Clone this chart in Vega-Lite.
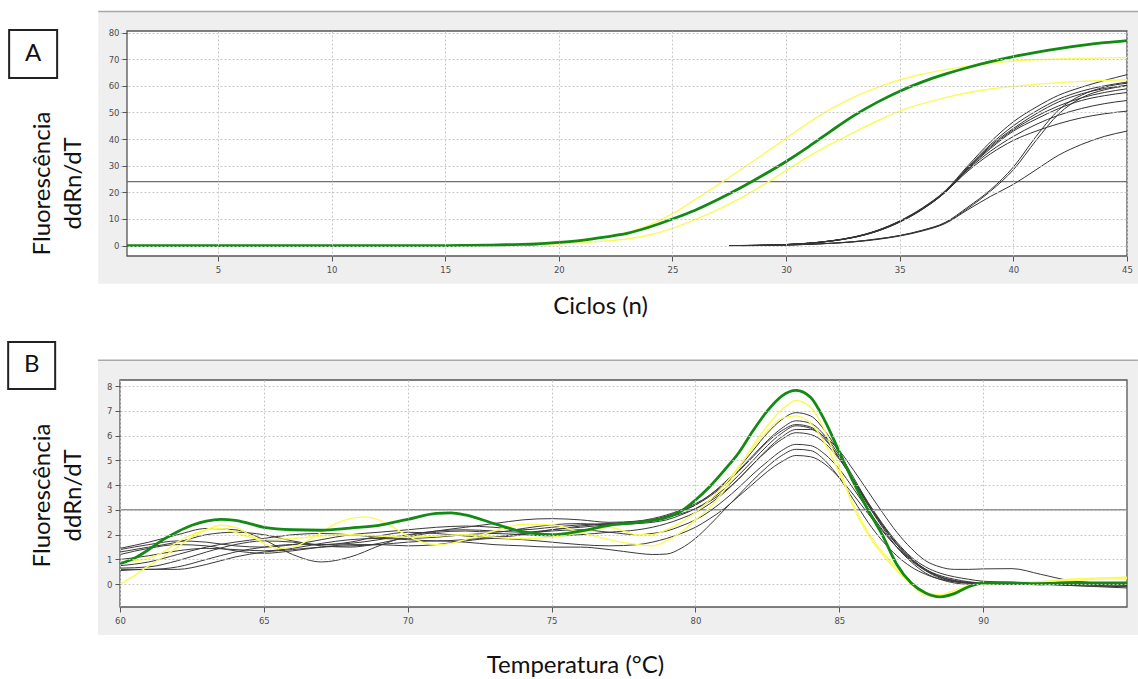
{
"$schema": "https://vega.github.io/schema/vega-lite/v6.json",
"background": "white",
"padding": {"left": 4, "top": 10, "right": 0, "bottom": 0},
"config": {
 "view": {"stroke": null},
 "axis": {"domain": false, "grid": true, "gridColor": "#c8c8c8", "gridDash": [2, 2], "gridWidth": 1, "tickColor": "#555555", "tickSize": 5, "labelColor": "#4d4d4d", "labelFont": "DejaVu Sans", "labelFontSize": 8.5, "labelPadding": 3, "labelFlush": false, "labelOverlap": false, "titleFont": "Lato", "titleFontSize": 24, "titleFontWeight": "normal", "titleColor": "#111111"}
},
"datasets": {
 "AG": [{"x":1,"y":0},{"x":5,"y":0},{"x":10,"y":0},{"x":15,"y":0},{"x":16,"y":0.1},{"x":17,"y":0.2},{"x":18,"y":0.4},{"x":19,"y":0.6},{"x":20,"y":1.2},{"x":21,"y":2},{"x":22,"y":3.2},{"x":23,"y":4.6},{"x":24,"y":7},{"x":25,"y":10},{"x":26,"y":13.3},{"x":27,"y":17.3},{"x":28,"y":21.7},{"x":29,"y":26.5},{"x":30,"y":31.6},{"x":31,"y":37.2},{"x":32,"y":43.2},{"x":33,"y":48.9},{"x":34,"y":53.8},{"x":35,"y":58},{"x":36,"y":61.5},{"x":37,"y":64.4},{"x":38,"y":66.9},{"x":39,"y":69.1},{"x":40,"y":71},{"x":41,"y":72.6},{"x":42,"y":74},{"x":43,"y":75.2},{"x":44,"y":76.2},{"x":45,"y":77}],
 "AY": [
  {"s":"Y1","x":16,"y":0},{"s":"Y1","x":17,"y":0.1},{"s":"Y1","x":18,"y":0.3},{"s":"Y1","x":19,"y":0.6},{"s":"Y1","x":20,"y":1.2},{"s":"Y1","x":21,"y":2},{"s":"Y1","x":22,"y":3.3},{"s":"Y1","x":23,"y":5},{"s":"Y1","x":24,"y":7.8},{"s":"Y1","x":25,"y":12},{"s":"Y1","x":26,"y":17.3},{"s":"Y1","x":27,"y":22.8},{"s":"Y1","x":28,"y":28.5},{"s":"Y1","x":29,"y":34.3},{"s":"Y1","x":30,"y":40.3},{"s":"Y1","x":31,"y":46.2},{"s":"Y1","x":32,"y":51.5},{"s":"Y1","x":33,"y":55.8},{"s":"Y1","x":34,"y":59.3},{"s":"Y1","x":35,"y":62.3},{"s":"Y1","x":36,"y":64.4},{"s":"Y1","x":37,"y":66.1},{"s":"Y1","x":38,"y":67.4},{"s":"Y1","x":39,"y":68.5},{"s":"Y1","x":40,"y":69.3},{"s":"Y1","x":41,"y":69.8},{"s":"Y1","x":42,"y":70.1},{"s":"Y1","x":43,"y":70.3},{"s":"Y1","x":44,"y":70.5},{"s":"Y1","x":45,"y":70.6},
  {"s":"Y2","x":16,"y":0},{"s":"Y2","x":17,"y":0.1},{"s":"Y2","x":18,"y":0.2},{"s":"Y2","x":19,"y":0.4},{"s":"Y2","x":20,"y":0.7},{"s":"Y2","x":21,"y":1.1},{"s":"Y2","x":22,"y":1.7},{"s":"Y2","x":23,"y":2.5},{"s":"Y2","x":24,"y":4},{"s":"Y2","x":25,"y":6.5},{"s":"Y2","x":26,"y":9.8},{"s":"Y2","x":27,"y":13.5},{"s":"Y2","x":28,"y":17.8},{"s":"Y2","x":29,"y":22.8},{"s":"Y2","x":30,"y":28.2},{"s":"Y2","x":31,"y":33.5},{"s":"Y2","x":32,"y":38.3},{"s":"Y2","x":33,"y":42.6},{"s":"Y2","x":34,"y":46.8},{"s":"Y2","x":35,"y":50.5},{"s":"Y2","x":36,"y":53.3},{"s":"Y2","x":37,"y":55.6},{"s":"Y2","x":38,"y":57.4},{"s":"Y2","x":39,"y":58.8},{"s":"Y2","x":40,"y":59.8},{"s":"Y2","x":41,"y":60.6},{"s":"Y2","x":42,"y":61.2},{"s":"Y2","x":43,"y":61.7},{"s":"Y2","x":44,"y":62},{"s":"Y2","x":45,"y":62.3}
 ],
 "AK": [
  {"s":"K1","x":27.5,"y":0},{"s":"K1","x":28,"y":0.05},{"s":"K1","x":29,"y":0.15},{"s":"K1","x":30,"y":0.4},{"s":"K1","x":31,"y":0.9},{"s":"K1","x":32,"y":1.8},{"s":"K1","x":33,"y":3.3},{"s":"K1","x":34,"y":5.7},{"s":"K1","x":35,"y":9.3},{"s":"K1","x":36,"y":14.2},{"s":"K1","x":37,"y":20.6},{"s":"K1","x":38,"y":30},{"s":"K1","x":39,"y":39},{"s":"K1","x":40,"y":46.5},{"s":"K1","x":41,"y":52},{"s":"K1","x":42,"y":56.5},{"s":"K1","x":43,"y":59.5},{"s":"K1","x":44,"y":62},{"s":"K1","x":45,"y":64.2},
  {"s":"K2","x":27.8,"y":0},{"s":"K2","x":29,"y":0.15},{"s":"K2","x":30,"y":0.4},{"s":"K2","x":31,"y":0.9},{"s":"K2","x":32,"y":1.8},{"s":"K2","x":33,"y":3.2},{"s":"K2","x":34,"y":5.6},{"s":"K2","x":35,"y":9.1},{"s":"K2","x":36,"y":14},{"s":"K2","x":37,"y":20.4},{"s":"K2","x":38,"y":29.5},{"s":"K2","x":39,"y":38},{"s":"K2","x":40,"y":45},{"s":"K2","x":41,"y":50.5},{"s":"K2","x":42,"y":55},{"s":"K2","x":43,"y":58},{"s":"K2","x":44,"y":60},{"s":"K2","x":45,"y":61.4},
  {"s":"K3","x":28,"y":0},{"s":"K3","x":29,"y":0.12},{"s":"K3","x":30,"y":0.38},{"s":"K3","x":31,"y":0.85},{"s":"K3","x":32,"y":1.75},{"s":"K3","x":33,"y":3.15},{"s":"K3","x":34,"y":5.5},{"s":"K3","x":35,"y":9},{"s":"K3","x":36,"y":13.8},{"s":"K3","x":37,"y":20.2},{"s":"K3","x":38,"y":29.2},{"s":"K3","x":39,"y":37.5},{"s":"K3","x":40,"y":44},{"s":"K3","x":41,"y":49.5},{"s":"K3","x":42,"y":54},{"s":"K3","x":43,"y":57},{"s":"K3","x":44,"y":59},{"s":"K3","x":45,"y":60.2},
  {"s":"K4","x":28.5,"y":0},{"s":"K4","x":29,"y":0.1},{"s":"K4","x":30,"y":0.35},{"s":"K4","x":31,"y":0.85},{"s":"K4","x":32,"y":1.7},{"s":"K4","x":33,"y":3.1},{"s":"K4","x":34,"y":5.4},{"s":"K4","x":35,"y":8.9},{"s":"K4","x":36,"y":13.7},{"s":"K4","x":37,"y":20},{"s":"K4","x":38,"y":29},{"s":"K4","x":39,"y":37},{"s":"K4","x":40,"y":43.5},{"s":"K4","x":41,"y":48.5},{"s":"K4","x":42,"y":52.5},{"s":"K4","x":43,"y":55.5},{"s":"K4","x":44,"y":57.5},{"s":"K4","x":45,"y":58.9},
  {"s":"K5","x":27.5,"y":0},{"s":"K5","x":29,"y":0.15},{"s":"K5","x":30,"y":0.42},{"s":"K5","x":31,"y":0.95},{"s":"K5","x":32,"y":1.85},{"s":"K5","x":33,"y":3.25},{"s":"K5","x":34,"y":5.6},{"s":"K5","x":35,"y":9.2},{"s":"K5","x":36,"y":13.9},{"s":"K5","x":37,"y":20.1},{"s":"K5","x":38,"y":28.8},{"s":"K5","x":39,"y":36.5},{"s":"K5","x":40,"y":43},{"s":"K5","x":41,"y":47.5},{"s":"K5","x":42,"y":51.5},{"s":"K5","x":43,"y":54.5},{"s":"K5","x":44,"y":56.3},{"s":"K5","x":45,"y":57.5},
  {"s":"K6","x":28,"y":0},{"s":"K6","x":29,"y":0.12},{"s":"K6","x":30,"y":0.4},{"s":"K6","x":31,"y":0.9},{"s":"K6","x":32,"y":1.75},{"s":"K6","x":33,"y":3.1},{"s":"K6","x":34,"y":5.35},{"s":"K6","x":35,"y":8.8},{"s":"K6","x":36,"y":13.6},{"s":"K6","x":37,"y":20},{"s":"K6","x":38,"y":28.5},{"s":"K6","x":39,"y":35.5},{"s":"K6","x":40,"y":41},{"s":"K6","x":41,"y":45.5},{"s":"K6","x":42,"y":49},{"s":"K6","x":43,"y":51.5},{"s":"K6","x":44,"y":53.3},{"s":"K6","x":45,"y":54.5},
  {"s":"K7","x":28.5,"y":0},{"s":"K7","x":29,"y":0.12},{"s":"K7","x":30,"y":0.38},{"s":"K7","x":31,"y":0.88},{"s":"K7","x":32,"y":1.78},{"s":"K7","x":33,"y":3.2},{"s":"K7","x":34,"y":5.5},{"s":"K7","x":35,"y":9},{"s":"K7","x":36,"y":13.8},{"s":"K7","x":37,"y":20.1},{"s":"K7","x":38,"y":28},{"s":"K7","x":39,"y":34.5},{"s":"K7","x":40,"y":39.5},{"s":"K7","x":41,"y":43},{"s":"K7","x":42,"y":45.8},{"s":"K7","x":43,"y":48},{"s":"K7","x":44,"y":49.5},{"s":"K7","x":45,"y":50.5},
  {"s":"K8","x":27.5,"y":0},{"s":"K8","x":29,"y":0.05},{"s":"K8","x":30,"y":0.2},{"s":"K8","x":31,"y":0.5},{"s":"K8","x":32,"y":0.9},{"s":"K8","x":33,"y":1.5},{"s":"K8","x":34,"y":2.5},{"s":"K8","x":35,"y":3.8},{"s":"K8","x":36,"y":5.8},{"s":"K8","x":37,"y":8.7},{"s":"K8","x":38,"y":14.5},{"s":"K8","x":39,"y":21},{"s":"K8","x":40,"y":29.5},{"s":"K8","x":41,"y":41},{"s":"K8","x":42,"y":51},{"s":"K8","x":43,"y":56.5},{"s":"K8","x":44,"y":59.5},{"s":"K8","x":45,"y":61},
  {"s":"K9","x":28,"y":0},{"s":"K9","x":29,"y":0.05},{"s":"K9","x":30,"y":0.2},{"s":"K9","x":31,"y":0.5},{"s":"K9","x":32,"y":0.9},{"s":"K9","x":33,"y":1.5},{"s":"K9","x":34,"y":2.45},{"s":"K9","x":35,"y":3.75},{"s":"K9","x":36,"y":5.7},{"s":"K9","x":37,"y":8.5},{"s":"K9","x":38,"y":14},{"s":"K9","x":39,"y":20.5},{"s":"K9","x":40,"y":28.5},{"s":"K9","x":41,"y":39.5},{"s":"K9","x":42,"y":49.5},{"s":"K9","x":43,"y":55.5},{"s":"K9","x":44,"y":58.5},{"s":"K9","x":45,"y":60},
  {"s":"K10","x":28,"y":0},{"s":"K10","x":29,"y":0.05},{"s":"K10","x":30,"y":0.2},{"s":"K10","x":31,"y":0.45},{"s":"K10","x":32,"y":0.85},{"s":"K10","x":33,"y":1.4},{"s":"K10","x":34,"y":2.3},{"s":"K10","x":35,"y":3.6},{"s":"K10","x":36,"y":5.5},{"s":"K10","x":37,"y":8.3},{"s":"K10","x":38,"y":13.5},{"s":"K10","x":39,"y":18.5},{"s":"K10","x":40,"y":23},{"s":"K10","x":41,"y":28.5},{"s":"K10","x":42,"y":34},{"s":"K10","x":43,"y":38},{"s":"K10","x":44,"y":41},{"s":"K10","x":45,"y":43}
 ],
 "BG": [{"x":60,"y":0.83},{"x":60.5,"y":1.05},{"x":61,"y":1.4},{"x":61.5,"y":1.8},{"x":62,"y":2.12},{"x":62.5,"y":2.38},{"x":63,"y":2.55},{"x":63.5,"y":2.62},{"x":64,"y":2.58},{"x":64.5,"y":2.45},{"x":65,"y":2.3},{"x":66,"y":2.2},{"x":67,"y":2.18},{"x":68,"y":2.27},{"x":69,"y":2.38},{"x":70,"y":2.62},{"x":71,"y":2.86},{"x":71.5,"y":2.88},{"x":72,"y":2.8},{"x":73,"y":2.45},{"x":74,"y":2.12},{"x":75,"y":2},{"x":76,"y":2.15},{"x":77,"y":2.38},{"x":78,"y":2.5},{"x":79,"y":2.7},{"x":79.5,"y":2.95},{"x":80,"y":3.4},{"x":80.5,"y":3.95},{"x":81,"y":4.6},{"x":81.5,"y":5.3},{"x":82,"y":6.2},{"x":82.5,"y":7},{"x":83,"y":7.6},{"x":83.5,"y":7.83},{"x":84,"y":7.55},{"x":84.5,"y":6.6},{"x":85,"y":5.35},{"x":85.5,"y":4.1},{"x":86,"y":3},{"x":86.5,"y":1.98},{"x":87,"y":0.8},{"x":87.5,"y":0.05},{"x":88,"y":-0.35},{"x":88.5,"y":-0.51},{"x":89,"y":-0.38},{"x":89.5,"y":-0.1},{"x":90,"y":0.05},{"x":91,"y":0.05},{"x":92,"y":0.02},{"x":93,"y":0.05},{"x":94,"y":0.05},{"x":95,"y":0.05}],
 "BY": [
  {"s":"Y1","x":60,"y":0},{"s":"Y1","x":60.5,"y":0.35},{"s":"Y1","x":61,"y":0.75},{"s":"Y1","x":61.5,"y":1.1},{"s":"Y1","x":62,"y":1.5},{"s":"Y1","x":62.5,"y":1.9},{"s":"Y1","x":63,"y":2.2},{"s":"Y1","x":63.5,"y":2.38},{"s":"Y1","x":64,"y":2.3},{"s":"Y1","x":64.5,"y":2},{"s":"Y1","x":65,"y":1.65},{"s":"Y1","x":65.5,"y":1.45},{"s":"Y1","x":66,"y":1.5},{"s":"Y1","x":66.5,"y":1.75},{"s":"Y1","x":67,"y":2.1},{"s":"Y1","x":67.5,"y":2.45},{"s":"Y1","x":68,"y":2.65},{"s":"Y1","x":68.5,"y":2.72},{"s":"Y1","x":69,"y":2.6},{"s":"Y1","x":69.5,"y":2.3},{"s":"Y1","x":70,"y":1.95},{"s":"Y1","x":70.5,"y":1.7},{"s":"Y1","x":71,"y":1.6},{"s":"Y1","x":71.5,"y":1.65},{"s":"Y1","x":72,"y":1.8},{"s":"Y1","x":73,"y":2.15},{"s":"Y1","x":74,"y":2.42},{"s":"Y1","x":75,"y":2.4},{"s":"Y1","x":76,"y":2.1},{"s":"Y1","x":77,"y":1.8},{"s":"Y1","x":78,"y":1.6},{"s":"Y1","x":78.5,"y":1.55},{"s":"Y1","x":79,"y":1.75},{"s":"Y1","x":79.5,"y":2.1},{"s":"Y1","x":80,"y":2.6},{"s":"Y1","x":80.5,"y":3.1},{"s":"Y1","x":81,"y":3.8},{"s":"Y1","x":81.5,"y":4.7},{"s":"Y1","x":82,"y":5.6},{"s":"Y1","x":82.5,"y":6.4},{"s":"Y1","x":83,"y":7.05},{"s":"Y1","x":83.5,"y":7.42},{"s":"Y1","x":84,"y":7.15},{"s":"Y1","x":84.5,"y":6.2},{"s":"Y1","x":85,"y":4.7},{"s":"Y1","x":85.5,"y":3.1},{"s":"Y1","x":86,"y":2},{"s":"Y1","x":86.5,"y":1.2},{"s":"Y1","x":87,"y":0.55},{"s":"Y1","x":87.5,"y":0},{"s":"Y1","x":88,"y":-0.45},{"s":"Y1","x":88.5,"y":-0.5},{"s":"Y1","x":89,"y":-0.32},{"s":"Y1","x":89.5,"y":-0.1},{"s":"Y1","x":90,"y":0},{"s":"Y1","x":91,"y":0.05},{"s":"Y1","x":92,"y":0.1},{"s":"Y1","x":93,"y":0.2},{"s":"Y1","x":94,"y":0.25},{"s":"Y1","x":95,"y":0.28},
  {"s":"Y2","x":60,"y":0.9},{"s":"Y2","x":60.5,"y":0.95},{"s":"Y2","x":61,"y":1.05},{"s":"Y2","x":61.5,"y":1.3},{"s":"Y2","x":62,"y":1.7},{"s":"Y2","x":62.5,"y":2},{"s":"Y2","x":63,"y":2.2},{"s":"Y2","x":63.5,"y":2.25},{"s":"Y2","x":64,"y":2.1},{"s":"Y2","x":64.5,"y":1.9},{"s":"Y2","x":65,"y":1.8},{"s":"Y2","x":66,"y":1.85},{"s":"Y2","x":67,"y":1.95},{"s":"Y2","x":68,"y":2},{"s":"Y2","x":69,"y":1.95},{"s":"Y2","x":70,"y":1.9},{"s":"Y2","x":71,"y":1.95},{"s":"Y2","x":72,"y":2},{"s":"Y2","x":73,"y":1.9},{"s":"Y2","x":74,"y":1.84},{"s":"Y2","x":75,"y":1.9},{"s":"Y2","x":76,"y":2.1},{"s":"Y2","x":77,"y":2.3},{"s":"Y2","x":78,"y":2},{"s":"Y2","x":78.5,"y":2},{"s":"Y2","x":79,"y":2.2},{"s":"Y2","x":79.5,"y":2.5},{"s":"Y2","x":80,"y":2.9},{"s":"Y2","x":80.5,"y":3.4},{"s":"Y2","x":81,"y":4},{"s":"Y2","x":81.5,"y":4.75},{"s":"Y2","x":82,"y":5.5},{"s":"Y2","x":82.5,"y":6.2},{"s":"Y2","x":83,"y":6.7},{"s":"Y2","x":83.5,"y":6.8},{"s":"Y2","x":84,"y":6.5},{"s":"Y2","x":84.5,"y":5.7},{"s":"Y2","x":85,"y":4.5},{"s":"Y2","x":85.5,"y":3.2},{"s":"Y2","x":86,"y":2.1},{"s":"Y2","x":86.5,"y":1.3},{"s":"Y2","x":87,"y":0.65},{"s":"Y2","x":87.5,"y":0.1},{"s":"Y2","x":88,"y":-0.35},{"s":"Y2","x":88.5,"y":-0.42},{"s":"Y2","x":89,"y":-0.25},{"s":"Y2","x":89.5,"y":-0.05},{"s":"Y2","x":90,"y":0.02},{"s":"Y2","x":91,"y":0.05},{"s":"Y2","x":92,"y":0.1},{"s":"Y2","x":93,"y":0.15},{"s":"Y2","x":94,"y":0.2},{"s":"Y2","x":95,"y":0.22}
 ],
 "BK": [
  {"s":"B1","x":60,"y":1.4},{"s":"B1","x":61,"y":1.6},{"s":"B1","x":62,"y":1.75},{"s":"B1","x":63,"y":1.7},{"s":"B1","x":64,"y":1.55},{"s":"B1","x":65,"y":1.5},{"s":"B1","x":66,"y":1.6},{"s":"B1","x":67,"y":1.8},{"s":"B1","x":68,"y":2},{"s":"B1","x":69,"y":2.1},{"s":"B1","x":70,"y":2.2},{"s":"B1","x":71,"y":2.3},{"s":"B1","x":72,"y":2.35},{"s":"B1","x":73,"y":2.3},{"s":"B1","x":74,"y":2.2},{"s":"B1","x":75,"y":2.3},{"s":"B1","x":76,"y":2.4},{"s":"B1","x":77,"y":2.45},{"s":"B1","x":78,"y":2.5},{"s":"B1","x":78.5,"y":2.6},{"s":"B1","x":79,"y":2.75},{"s":"B1","x":79.5,"y":2.95},{"s":"B1","x":80,"y":3.2},{"s":"B1","x":80.5,"y":3.6},{"s":"B1","x":81,"y":4.1},{"s":"B1","x":81.5,"y":4.7},{"s":"B1","x":82,"y":5.4},{"s":"B1","x":82.5,"y":6.1},{"s":"B1","x":83,"y":6.65},{"s":"B1","x":83.5,"y":6.93},{"s":"B1","x":84,"y":6.8},{"s":"B1","x":84.5,"y":6.2},{"s":"B1","x":85,"y":5.3},{"s":"B1","x":85.5,"y":4.3},{"s":"B1","x":86,"y":3.3},{"s":"B1","x":86.5,"y":2.4},{"s":"B1","x":87,"y":1.6},{"s":"B1","x":87.5,"y":1},{"s":"B1","x":88,"y":0.6},{"s":"B1","x":88.5,"y":0.35},{"s":"B1","x":89,"y":0.2},{"s":"B1","x":89.5,"y":0.1},{"s":"B1","x":90,"y":0.05},{"s":"B1","x":91,"y":0.05},{"s":"B1","x":92,"y":0},{"s":"B1","x":93,"y":-0.05},{"s":"B1","x":94,"y":-0.08},{"s":"B1","x":95,"y":-0.1},
  {"s":"B2","x":60,"y":0.6},{"s":"B2","x":61,"y":0.6},{"s":"B2","x":62,"y":0.7},{"s":"B2","x":63,"y":1},{"s":"B2","x":64,"y":1.3},{"s":"B2","x":65,"y":1.5},{"s":"B2","x":66,"y":1.6},{"s":"B2","x":67,"y":1.6},{"s":"B2","x":68,"y":1.65},{"s":"B2","x":69,"y":1.8},{"s":"B2","x":70,"y":2},{"s":"B2","x":71,"y":2.15},{"s":"B2","x":72,"y":2.2},{"s":"B2","x":73,"y":2.15},{"s":"B2","x":74,"y":2.1},{"s":"B2","x":75,"y":2.2},{"s":"B2","x":76,"y":2.35},{"s":"B2","x":77,"y":2.45},{"s":"B2","x":78,"y":2.55},{"s":"B2","x":78.5,"y":2.65},{"s":"B2","x":79,"y":2.8},{"s":"B2","x":79.5,"y":3},{"s":"B2","x":80,"y":3.25},{"s":"B2","x":80.5,"y":3.6},{"s":"B2","x":81,"y":4.05},{"s":"B2","x":81.5,"y":4.6},{"s":"B2","x":82,"y":5.2},{"s":"B2","x":82.5,"y":5.8},{"s":"B2","x":83,"y":6.3},{"s":"B2","x":83.5,"y":6.6},{"s":"B2","x":84,"y":6.5},{"s":"B2","x":84.5,"y":6},{"s":"B2","x":85,"y":5.2},{"s":"B2","x":85.5,"y":4.2},{"s":"B2","x":86,"y":3.2},{"s":"B2","x":86.5,"y":2.3},{"s":"B2","x":87,"y":1.5},{"s":"B2","x":87.5,"y":0.9},{"s":"B2","x":88,"y":0.45},{"s":"B2","x":88.5,"y":0.2},{"s":"B2","x":89,"y":0.05},{"s":"B2","x":89.5,"y":0},{"s":"B2","x":90,"y":0},{"s":"B2","x":91,"y":0},{"s":"B2","x":92,"y":0.05},{"s":"B2","x":93,"y":0.05},{"s":"B2","x":94,"y":0},{"s":"B2","x":95,"y":-0.05},
  {"s":"B3","x":60,"y":1.3},{"s":"B3","x":61,"y":1.5},{"s":"B3","x":62,"y":1.7},{"s":"B3","x":63,"y":2},{"s":"B3","x":64,"y":2.1},{"s":"B3","x":65,"y":2},{"s":"B3","x":66,"y":1.75},{"s":"B3","x":67,"y":1.6},{"s":"B3","x":68,"y":1.7},{"s":"B3","x":69,"y":1.95},{"s":"B3","x":70,"y":2.1},{"s":"B3","x":71,"y":2.05},{"s":"B3","x":72,"y":1.95},{"s":"B3","x":73,"y":1.9},{"s":"B3","x":74,"y":2},{"s":"B3","x":75,"y":2.2},{"s":"B3","x":76,"y":2.3},{"s":"B3","x":77,"y":2.4},{"s":"B3","x":78,"y":2.45},{"s":"B3","x":78.5,"y":2.5},{"s":"B3","x":79,"y":2.6},{"s":"B3","x":79.5,"y":2.8},{"s":"B3","x":80,"y":3.05},{"s":"B3","x":80.5,"y":3.4},{"s":"B3","x":81,"y":3.85},{"s":"B3","x":81.5,"y":4.4},{"s":"B3","x":82,"y":5},{"s":"B3","x":82.5,"y":5.6},{"s":"B3","x":83,"y":6.1},{"s":"B3","x":83.5,"y":6.4},{"s":"B3","x":84,"y":6.3},{"s":"B3","x":84.5,"y":5.85},{"s":"B3","x":85,"y":5.1},{"s":"B3","x":85.5,"y":4.2},{"s":"B3","x":86,"y":3.25},{"s":"B3","x":86.5,"y":2.4},{"s":"B3","x":87,"y":1.65},{"s":"B3","x":87.5,"y":1.05},{"s":"B3","x":88,"y":0.6},{"s":"B3","x":88.5,"y":0.3},{"s":"B3","x":89,"y":0.15},{"s":"B3","x":89.5,"y":0.05},{"s":"B3","x":90,"y":0},{"s":"B3","x":91,"y":0.02},{"s":"B3","x":92,"y":0.05},{"s":"B3","x":93,"y":0.05},{"s":"B3","x":94,"y":0.05},{"s":"B3","x":95,"y":0},
  {"s":"B4","x":60,"y":1.45},{"s":"B4","x":61,"y":1.7},{"s":"B4","x":62,"y":2},{"s":"B4","x":63,"y":2.25},{"s":"B4","x":64,"y":2.2},{"s":"B4","x":65,"y":1.8},{"s":"B4","x":66,"y":1.2},{"s":"B4","x":67,"y":0.9},{"s":"B4","x":68,"y":1.1},{"s":"B4","x":69,"y":1.55},{"s":"B4","x":70,"y":1.95},{"s":"B4","x":71,"y":2.15},{"s":"B4","x":72,"y":2.3},{"s":"B4","x":73,"y":2.45},{"s":"B4","x":74,"y":2.6},{"s":"B4","x":75,"y":2.65},{"s":"B4","x":76,"y":2.6},{"s":"B4","x":77,"y":2.5},{"s":"B4","x":78,"y":2.55},{"s":"B4","x":78.5,"y":2.6},{"s":"B4","x":79,"y":2.7},{"s":"B4","x":79.5,"y":2.85},{"s":"B4","x":80,"y":3.05},{"s":"B4","x":80.5,"y":3.35},{"s":"B4","x":81,"y":3.75},{"s":"B4","x":81.5,"y":4.25},{"s":"B4","x":82,"y":4.85},{"s":"B4","x":82.5,"y":5.45},{"s":"B4","x":83,"y":5.95},{"s":"B4","x":83.5,"y":6.25},{"s":"B4","x":84,"y":6.25},{"s":"B4","x":84.5,"y":5.95},{"s":"B4","x":85,"y":5.4},{"s":"B4","x":85.5,"y":4.6},{"s":"B4","x":86,"y":3.75},{"s":"B4","x":86.5,"y":2.9},{"s":"B4","x":87,"y":2.1},{"s":"B4","x":87.5,"y":1.45},{"s":"B4","x":88,"y":0.95},{"s":"B4","x":88.5,"y":0.7},{"s":"B4","x":89,"y":0.6},{"s":"B4","x":89.5,"y":0.6},{"s":"B4","x":90,"y":0.62},{"s":"B4","x":91,"y":0.63},{"s":"B4","x":92,"y":0.4},{"s":"B4","x":93,"y":0.15},{"s":"B4","x":94,"y":0.05},{"s":"B4","x":95,"y":0},
  {"s":"B5","x":60,"y":0.75},{"s":"B5","x":61,"y":0.9},{"s":"B5","x":62,"y":1.2},{"s":"B5","x":63,"y":1.5},{"s":"B5","x":64,"y":1.7},{"s":"B5","x":65,"y":1.85},{"s":"B5","x":66,"y":2},{"s":"B5","x":67,"y":2.05},{"s":"B5","x":68,"y":2},{"s":"B5","x":69,"y":1.9},{"s":"B5","x":70,"y":1.85},{"s":"B5","x":71,"y":1.9},{"s":"B5","x":72,"y":2},{"s":"B5","x":73,"y":2.05},{"s":"B5","x":74,"y":2},{"s":"B5","x":75,"y":1.95},{"s":"B5","x":76,"y":2},{"s":"B5","x":77,"y":2.1},{"s":"B5","x":78,"y":2.2},{"s":"B5","x":78.5,"y":2.3},{"s":"B5","x":79,"y":2.45},{"s":"B5","x":79.5,"y":2.65},{"s":"B5","x":80,"y":2.9},{"s":"B5","x":80.5,"y":3.25},{"s":"B5","x":81,"y":3.7},{"s":"B5","x":81.5,"y":4.25},{"s":"B5","x":82,"y":4.85},{"s":"B5","x":82.5,"y":5.4},{"s":"B5","x":83,"y":5.85},{"s":"B5","x":83.5,"y":6.12},{"s":"B5","x":84,"y":6.05},{"s":"B5","x":84.5,"y":5.7},{"s":"B5","x":85,"y":5.05},{"s":"B5","x":85.5,"y":4.2},{"s":"B5","x":86,"y":3.3},{"s":"B5","x":86.5,"y":2.45},{"s":"B5","x":87,"y":1.7},{"s":"B5","x":87.5,"y":1.1},{"s":"B5","x":88,"y":0.7},{"s":"B5","x":88.5,"y":0.45},{"s":"B5","x":89,"y":0.3},{"s":"B5","x":89.5,"y":0.2},{"s":"B5","x":90,"y":0.12},{"s":"B5","x":91,"y":0.08},{"s":"B5","x":92,"y":0.05},{"s":"B5","x":93,"y":0},{"s":"B5","x":94,"y":-0.05},{"s":"B5","x":95,"y":-0.08},
  {"s":"B6","x":60,"y":1},{"s":"B6","x":61,"y":1.15},{"s":"B6","x":62,"y":1.35},{"s":"B6","x":63,"y":1.45},{"s":"B6","x":64,"y":1.4},{"s":"B6","x":65,"y":1.35},{"s":"B6","x":66,"y":1.45},{"s":"B6","x":67,"y":1.65},{"s":"B6","x":68,"y":1.8},{"s":"B6","x":69,"y":1.85},{"s":"B6","x":70,"y":1.8},{"s":"B6","x":71,"y":1.75},{"s":"B6","x":72,"y":1.8},{"s":"B6","x":73,"y":1.9},{"s":"B6","x":74,"y":2.05},{"s":"B6","x":75,"y":2.15},{"s":"B6","x":76,"y":2.2},{"s":"B6","x":77,"y":2.1},{"s":"B6","x":78,"y":2},{"s":"B6","x":78.5,"y":2.05},{"s":"B6","x":79,"y":2.15},{"s":"B6","x":79.5,"y":2.35},{"s":"B6","x":80,"y":2.6},{"s":"B6","x":80.5,"y":2.95},{"s":"B6","x":81,"y":3.4},{"s":"B6","x":81.5,"y":3.9},{"s":"B6","x":82,"y":4.45},{"s":"B6","x":82.5,"y":4.95},{"s":"B6","x":83,"y":5.4},{"s":"B6","x":83.5,"y":5.65},{"s":"B6","x":84,"y":5.6},{"s":"B6","x":84.5,"y":5.25},{"s":"B6","x":85,"y":4.65},{"s":"B6","x":85.5,"y":3.85},{"s":"B6","x":86,"y":3},{"s":"B6","x":86.5,"y":2.2},{"s":"B6","x":87,"y":1.5},{"s":"B6","x":87.5,"y":0.95},{"s":"B6","x":88,"y":0.55},{"s":"B6","x":88.5,"y":0.3},{"s":"B6","x":89,"y":0.15},{"s":"B6","x":89.5,"y":0.08},{"s":"B6","x":90,"y":0.05},{"s":"B6","x":91,"y":0.05},{"s":"B6","x":92,"y":0.05},{"s":"B6","x":93,"y":0.02},{"s":"B6","x":94,"y":0},{"s":"B6","x":95,"y":0},
  {"s":"B7","x":60,"y":0.55},{"s":"B7","x":61,"y":0.6},{"s":"B7","x":62,"y":0.6},{"s":"B7","x":63,"y":0.8},{"s":"B7","x":64,"y":1.1},{"s":"B7","x":65,"y":1.3},{"s":"B7","x":66,"y":1.4},{"s":"B7","x":67,"y":1.5},{"s":"B7","x":68,"y":1.55},{"s":"B7","x":69,"y":1.6},{"s":"B7","x":70,"y":1.7},{"s":"B7","x":71,"y":1.75},{"s":"B7","x":72,"y":1.7},{"s":"B7","x":73,"y":1.6},{"s":"B7","x":74,"y":1.55},{"s":"B7","x":75,"y":1.5},{"s":"B7","x":76,"y":1.5},{"s":"B7","x":77,"y":1.4},{"s":"B7","x":78,"y":1.25},{"s":"B7","x":78.5,"y":1.2},{"s":"B7","x":79,"y":1.22},{"s":"B7","x":79.5,"y":1.45},{"s":"B7","x":80,"y":1.85},{"s":"B7","x":80.5,"y":2.4},{"s":"B7","x":81,"y":3},{"s":"B7","x":81.5,"y":3.6},{"s":"B7","x":82,"y":4.2},{"s":"B7","x":82.5,"y":4.75},{"s":"B7","x":83,"y":5.2},{"s":"B7","x":83.5,"y":5.45},{"s":"B7","x":84,"y":5.4},{"s":"B7","x":84.5,"y":5},{"s":"B7","x":85,"y":4.3},{"s":"B7","x":85.5,"y":3.4},{"s":"B7","x":86,"y":2.5},{"s":"B7","x":86.5,"y":1.75},{"s":"B7","x":87,"y":1.15},{"s":"B7","x":87.5,"y":0.7},{"s":"B7","x":88,"y":0.4},{"s":"B7","x":88.5,"y":0.2},{"s":"B7","x":89,"y":0.1},{"s":"B7","x":89.5,"y":0.05},{"s":"B7","x":90,"y":0.02},{"s":"B7","x":91,"y":0},{"s":"B7","x":92,"y":0},{"s":"B7","x":93,"y":-0.05},{"s":"B7","x":94,"y":-0.1},{"s":"B7","x":95,"y":-0.15},
  {"s":"B8","x":60,"y":1.2},{"s":"B8","x":61,"y":1.45},{"s":"B8","x":62,"y":1.6},{"s":"B8","x":63,"y":1.55},{"s":"B8","x":64,"y":1.35},{"s":"B8","x":65,"y":1.25},{"s":"B8","x":66,"y":1.35},{"s":"B8","x":67,"y":1.5},{"s":"B8","x":68,"y":1.6},{"s":"B8","x":69,"y":1.6},{"s":"B8","x":70,"y":1.55},{"s":"B8","x":71,"y":1.6},{"s":"B8","x":72,"y":1.75},{"s":"B8","x":73,"y":1.85},{"s":"B8","x":74,"y":1.8},{"s":"B8","x":75,"y":1.7},{"s":"B8","x":76,"y":1.6},{"s":"B8","x":77,"y":1.55},{"s":"B8","x":78,"y":1.6},{"s":"B8","x":78.5,"y":1.7},{"s":"B8","x":79,"y":1.85},{"s":"B8","x":79.5,"y":2.05},{"s":"B8","x":80,"y":2.3},{"s":"B8","x":80.5,"y":2.65},{"s":"B8","x":81,"y":3.05},{"s":"B8","x":81.5,"y":3.55},{"s":"B8","x":82,"y":4.05},{"s":"B8","x":82.5,"y":4.55},{"s":"B8","x":83,"y":4.95},{"s":"B8","x":83.5,"y":5.2},{"s":"B8","x":84,"y":5.15},{"s":"B8","x":84.5,"y":4.85},{"s":"B8","x":85,"y":4.3},{"s":"B8","x":85.5,"y":3.6},{"s":"B8","x":86,"y":2.85},{"s":"B8","x":86.5,"y":2.15},{"s":"B8","x":87,"y":1.5},{"s":"B8","x":87.5,"y":1},{"s":"B8","x":88,"y":0.6},{"s":"B8","x":88.5,"y":0.3},{"s":"B8","x":89,"y":0.12},{"s":"B8","x":89.5,"y":0.05},{"s":"B8","x":90,"y":0.02},{"s":"B8","x":91,"y":0},{"s":"B8","x":92,"y":-0.02},{"s":"B8","x":93,"y":0},{"s":"B8","x":94,"y":0.05},{"s":"B8","x":95,"y":0.05},
  {"s":"B9","x":60,"y":0.65},{"s":"B9","x":61,"y":0.7},{"s":"B9","x":62,"y":0.95},{"s":"B9","x":63,"y":1.3},{"s":"B9","x":64,"y":1.6},{"s":"B9","x":65,"y":1.75},{"s":"B9","x":66,"y":1.7},{"s":"B9","x":67,"y":1.55},{"s":"B9","x":68,"y":1.5},{"s":"B9","x":69,"y":1.65},{"s":"B9","x":70,"y":1.9},{"s":"B9","x":71,"y":2.1},{"s":"B9","x":72,"y":2.15},{"s":"B9","x":73,"y":2.1},{"s":"B9","x":74,"y":2.25},{"s":"B9","x":75,"y":2.4},{"s":"B9","x":76,"y":2.45},{"s":"B9","x":77,"y":2.4},{"s":"B9","x":78,"y":2.5},{"s":"B9","x":78.5,"y":2.6},{"s":"B9","x":79,"y":2.75},{"s":"B9","x":79.5,"y":2.95},{"s":"B9","x":80,"y":3.2},{"s":"B9","x":80.5,"y":3.55},{"s":"B9","x":81,"y":4},{"s":"B9","x":81.5,"y":4.55},{"s":"B9","x":82,"y":5.15},{"s":"B9","x":82.5,"y":5.75},{"s":"B9","x":83,"y":6.2},{"s":"B9","x":83.5,"y":6.45},{"s":"B9","x":84,"y":6.35},{"s":"B9","x":84.5,"y":5.9},{"s":"B9","x":85,"y":5.1},{"s":"B9","x":85.5,"y":4.15},{"s":"B9","x":86,"y":3.2},{"s":"B9","x":86.5,"y":2.35},{"s":"B9","x":87,"y":1.6},{"s":"B9","x":87.5,"y":1},{"s":"B9","x":88,"y":0.55},{"s":"B9","x":88.5,"y":0.25},{"s":"B9","x":89,"y":0.1},{"s":"B9","x":89.5,"y":0.05},{"s":"B9","x":90,"y":0.05},{"s":"B9","x":91,"y":0.05},{"s":"B9","x":92,"y":0.08},{"s":"B9","x":93,"y":0.1},{"s":"B9","x":94,"y":0.05},{"s":"B9","x":95,"y":0}
 ]
},
"columns": 1,
"spacing": 18,
"concat": [
 {
  "width": 1007, "height": 225,
  "layer": [
   {"data": {"values": [{}]}, "mark": {"type": "rect", "fill": "#efefef", "clip": false},
    "encoding": {"x": {"datum": -0.265, "type": "quantitative", "scale": {"domain": [0.692, 45], "nice": false, "zero": false}}, "x2": {"datum": 45.59}, "y": {"datum": 87.97, "type": "quantitative", "scale": {"domain": [-3.9, 80.6], "nice": false, "zero": false}}, "y2": {"datum": -14.29}}},
   {"data": {"values": [{}]}, "mark": {"type": "rule", "color": "#a9a9a9", "strokeWidth": 1.5},
    "encoding": {"x": {"datum": -0.265, "type": "quantitative"}, "x2": {"datum": 45.59}, "y": {"datum": 87.97, "type": "quantitative"}}},
   {"data": {"values": [{}]}, "mark": {"type": "rect", "fill": "white", "stroke": "#555555", "strokeWidth": 1.3},
    "encoding": {"x": {"datum": 1, "type": "quantitative"}, "x2": {"datum": 45}, "y": {"datum": -3.9, "type": "quantitative"}, "y2": {"datum": 80.6}}},
   {"data": {"values": [{}]}, "mark": {"type": "rule", "color": "#6e6e6e", "strokeWidth": 1.2},
    "encoding": {"x": {"datum": 1, "type": "quantitative"}, "x2": {"datum": 45}, "y": {"datum": 24, "type": "quantitative"}}},
   {"data": {"name": "AK"}, "mark": {"type": "line", "color": "#333333", "strokeWidth": 1, "interpolate": "monotone"},
    "encoding": {"x": {"field": "x", "type": "quantitative"}, "y": {"field": "y", "type": "quantitative"}, "detail": {"field": "s"}}},
   {"data": {"name": "AY"}, "mark": {"type": "line", "color": "#fafa5a", "strokeWidth": 1.4, "interpolate": "monotone"},
    "encoding": {"x": {"field": "x", "type": "quantitative"}, "y": {"field": "y", "type": "quantitative"}, "detail": {"field": "s"}}},
   {"data": {"name": "AG"}, "mark": {"type": "line", "color": "#138a13", "strokeWidth": 2.8, "interpolate": "monotone"},
    "encoding": {
     "x": {"field": "x", "type": "quantitative", "axis": {"zindex": 1, "values": [5, 10, 15, 20, 25, 30, 35, 40, 45], "title": "Ciclos (n)", "titleX": 480, "titlePadding": 21, "labelPadding": 4}},
     "y": {"field": "y", "type": "quantitative", "axis": {"zindex": 1, "values": [0, 10, 20, 30, 40, 50, 60, 70, 80], "tickCount": 9, "labelOverlap": false, "title": ["Fluorescência", "ddRn/dT"], "titleY": 152, "titlePadding": 23, "titleLineHeight": 31, "offset": -7}}}},
   {"data": {"values": [{}]}, "mark": {"type": "point", "shape": "square", "size": 2304, "filled": false, "stroke": "#222222", "strokeWidth": 2, "opacity": 1},
    "encoding": {"x": {"datum": -3.13, "type": "quantitative"}, "y": {"datum": 72, "type": "quantitative"}}},
   {"data": {"values": [{}]}, "mark": {"type": "text", "text": "A", "font": "Lato", "fontSize": 24, "color": "#111111", "align": "center", "baseline": "middle"},
    "encoding": {"x": {"datum": -3.13, "type": "quantitative"}, "y": {"datum": 72, "type": "quantitative"}}}
  ]
 },
 {
  "width": 1007, "height": 227,
  "layer": [
   {"data": {"values": [{}]}, "mark": {"type": "rect", "fill": "#efefef", "clip": false},
    "encoding": {"x": {"datum": 59.235, "type": "quantitative", "scale": {"domain": [60, 95], "nice": false, "zero": false}}, "x2": {"datum": 95.38}, "y": {"datum": 9.05, "type": "quantitative", "scale": {"domain": [-0.92, 8.25], "nice": false, "zero": false}}, "y2": {"datum": -2.05}}},
   {"data": {"values": [{}]}, "mark": {"type": "rule", "color": "#a9a9a9", "strokeWidth": 1.5},
    "encoding": {"x": {"datum": 59.235, "type": "quantitative"}, "x2": {"datum": 95.38}, "y": {"datum": 9.05, "type": "quantitative"}}},
   {"data": {"values": [{}]}, "mark": {"type": "rect", "fill": "white", "stroke": "#555555", "strokeWidth": 1.3},
    "encoding": {"x": {"datum": 60, "type": "quantitative"}, "x2": {"datum": 95}, "y": {"datum": -0.92, "type": "quantitative"}, "y2": {"datum": 8.25}}},
   {"data": {"values": [{}]}, "mark": {"type": "rule", "color": "#707070", "strokeWidth": 1.2},
    "encoding": {"x": {"datum": 60, "type": "quantitative"}, "x2": {"datum": 95}, "y": {"datum": 3, "type": "quantitative"}}},
   {"data": {"name": "BK"}, "mark": {"type": "line", "color": "#3a3a3a", "strokeWidth": 1, "interpolate": "monotone"},
    "encoding": {"x": {"field": "x", "type": "quantitative"}, "y": {"field": "y", "type": "quantitative"}, "detail": {"field": "s"}}},
   {"data": {"name": "BY"}, "mark": {"type": "line", "color": "#fafa5a", "strokeWidth": 1.4, "interpolate": "monotone"},
    "encoding": {"x": {"field": "x", "type": "quantitative"}, "y": {"field": "y", "type": "quantitative"}, "detail": {"field": "s"}}},
   {"data": {"name": "BG"}, "mark": {"type": "line", "color": "#138a13", "strokeWidth": 2.8, "interpolate": "monotone"},
    "encoding": {
     "x": {"field": "x", "type": "quantitative", "axis": {"zindex": 1, "values": [60, 65, 70, 75, 80, 85, 90], "title": "Temperatura (°C)", "titleX": 455, "titlePadding": 29, "labelPadding": 4}},
     "y": {"field": "y", "type": "quantitative", "axis": {"zindex": 1, "values": [0, 1, 2, 3, 4, 5, 6, 7, 8], "tickCount": 9, "labelOverlap": false, "title": ["Fluorescência", "ddRn/dT"], "titleY": 115, "titlePadding": 21, "titleLineHeight": 31}}}},
   {"data": {"values": [{}]}, "mark": {"type": "point", "shape": "square", "size": 2209, "filled": false, "stroke": "#222222", "strokeWidth": 2, "opacity": 1},
    "encoding": {"x": {"datum": 56.93, "type": "quantitative"}, "y": {"datum": 8.84, "type": "quantitative"}}},
   {"data": {"values": [{}]}, "mark": {"type": "text", "text": "B", "font": "Lato", "fontSize": 24, "color": "#111111", "align": "center", "baseline": "middle"},
    "encoding": {"x": {"datum": 56.93, "type": "quantitative"}, "y": {"datum": 8.84, "type": "quantitative"}}}
  ]
 }
]
}
